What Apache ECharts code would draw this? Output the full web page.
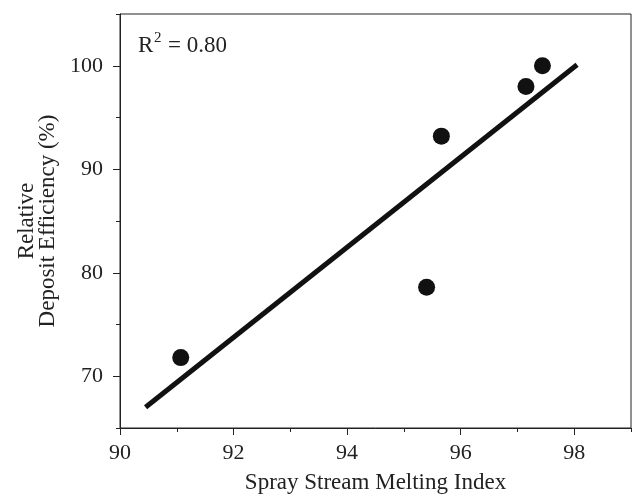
<!DOCTYPE html>
<html>
<head>
<meta charset="utf-8">
<script src="https://cdn.jsdelivr.net/npm/echarts@6/dist/echarts.min.js"></script>
<style>html,body{margin:0;padding:0;background:#fff}#c{width:632px;height:499px}</style>
</head>
<body>
<div id="c"></div>
<script>
var pointX = [91.07, 95.40, 95.66, 97.15, 97.44];
var pointY = [71.8, 78.6, 93.2, 98.0, 100.0];
var fitX = [90.45, 98.05];
var fitY = [67.0, 100.1];
var xMajor = [90, 92, 94, 96, 98];
var xMinor = [91, 93, 95, 97, 99];
var yMajor = [70, 80, 90, 100];
var yMinor = [65, 75, 85, 95, 105];
var r2Base = 'R';
var r2Sup = '2';
var r2Rest = '= 0.80';
var xName = 'Spray Stream Melting Index';
var yName = 'Relative\nDeposit Efficiency (%)';

var FONT = '"Liberation Serif", "Times New Roman", serif';
var INK = '#222';
var chart = echarts.init(document.getElementById('c'), null, {renderer: 'canvas'});
function pairs(xs, ys) { return xs.map(function (x, i) { return [x, ys[i]]; }); }

chart.setOption({
  animation: false,
  backgroundColor: '#fff',
  grid: {left: 120, right: 1, top: 14, bottom: 69, show: true, borderColor: INK, borderWidth: 1, backgroundColor: 'transparent'},
  xAxis: [{
    type: 'value', min: 90, max: 99, position: 'bottom',
    axisLine: {show: true, lineStyle: {color: INK, width: 1}},
    axisTick: {show: true, inside: false, length: 7, customValues: xMajor, lineStyle: {color: INK}},
    axisLabel: {customValues: xMajor, fontFamily: FONT, fontSize: 22, color: INK, margin: 14},
    splitLine: {show: false},
    name: xName, nameLocation: 'middle', nameGap: 43,
    nameTextStyle: {fontFamily: FONT, fontSize: 23, color: INK}
  }, {
    type: 'value', min: 90, max: 99, position: 'bottom',
    axisLine: {show: false},
    axisTick: {show: true, inside: false, length: 4, customValues: xMinor, lineStyle: {color: INK}},
    axisLabel: {show: false},
    splitLine: {show: false}
  }],
  yAxis: [{
    type: 'value', min: 65, max: 105, position: 'left',
    axisLine: {show: true, lineStyle: {color: INK, width: 1}},
    axisTick: {show: true, inside: false, length: 7, customValues: yMajor, lineStyle: {color: INK}},
    axisLabel: {customValues: yMajor, fontFamily: FONT, fontSize: 22, color: INK, margin: 17},
    splitLine: {show: false},
    name: yName, nameLocation: 'middle', nameGap: 61, nameRotate: 90,
    nameTextStyle: {fontFamily: FONT, fontSize: 23, color: INK, lineHeight: 21, align: 'center'}
  }, {
    type: 'value', min: 65, max: 105, position: 'left',
    axisLine: {show: false},
    axisTick: {show: true, inside: false, length: 4, customValues: yMinor, lineStyle: {color: INK}},
    axisLabel: {show: false},
    splitLine: {show: false}
  }],
  series: [{
    type: 'line', data: pairs(fitX, fitY), showSymbol: false, symbol: 'none',
    lineStyle: {color: '#111', width: 5}, z: 2
  }, {
    type: 'scatter', data: pairs(pointX, pointY), symbol: 'circle', symbolSize: 17,
    itemStyle: {color: '#111', opacity: 1}, z: 3
  }],
  graphic: [{
    type: 'text', left: 138, top: 34,
    style: {text: r2Base, font: '23px ' + FONT, fill: INK}
  }, {
    type: 'text', left: 154, top: 31,
    style: {text: r2Sup, font: '15px ' + FONT, fill: INK}
  }, {
    type: 'text', left: 168, top: 34,
    style: {text: r2Rest, font: '23px ' + FONT, fill: INK}
  }]
});
</script>
</body>
</html>
